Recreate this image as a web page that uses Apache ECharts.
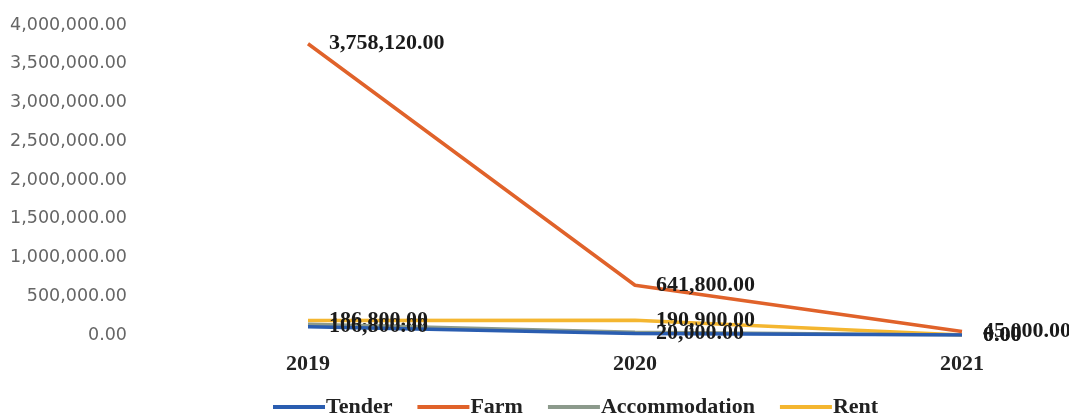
<!DOCTYPE html>
<html>
<head>
<meta charset="utf-8">
<script src="https://cdn.jsdelivr.net/npm/echarts@6/dist/echarts.min.js"></script>
<style>
html,body{margin:0;padding:0;background:#fff;}
#c{width:1069px;height:417px;}
</style>
</head>
<body>
<div id="c"></div>
<script>
var years = ['2019', '2020', '2021'];
var tender = [106800, 20000, 0];
var farm = [3758120, 641800, 45000];
var accommodation = [140000, 35000, 0];
var rent = [186800, 190900, 0];
var yTicks = [0, 500000, 1000000, 1500000, 2000000, 2500000, 3000000, 3500000, 4000000];

function fmt(v) {
  return Number(v).toLocaleString('en-US', {minimumFractionDigits: 2, maximumFractionDigits: 2});
}
var serif = '"Liberation Serif", "Times New Roman", serif';
var lbl = {
  show: true, position: 'right', distance: 21,
  fontFamily: serif, fontWeight: 'bold', fontSize: 22, color: '#1a1a1a',
  formatter: function (p) { return fmt(p.value); }
};
function mk(name, data, color, z, labelled) {
  return {
    name: name, type: 'line', data: data, symbol: 'circle', symbolSize: 0,
    showSymbol: true, z: z,
    lineStyle: {color: color, width: 3.5},
    itemStyle: {color: color},
    label: labelled ? lbl : {show: false},
    emphasis: {disabled: true}
  };
}
var chart = echarts.init(document.getElementById('c'));
chart.setOption({
  animation: false,
  backgroundColor: '#fff',
  grid: {left: 308, top: 25, right: 107, height: 310, containLabel: false},
  xAxis: {
    type: 'category', data: years, boundaryGap: false,
    axisLine: {show: false}, axisTick: {show: false},
    axisLabel: {fontFamily: serif, fontWeight: 'bold', fontSize: 22, color: '#222', margin: 18}
  },
  yAxis: {
    type: 'value', min: yTicks[0], max: yTicks[yTicks.length - 1], interval: yTicks[1] - yTicks[0],
    axisLine: {show: false}, axisTick: {show: false}, splitLine: {show: false},
    axisLabel: {fontFamily: '"DejaVu Sans", sans-serif', fontSize: 17.5, color: '#666', margin: 181,
      formatter: function (v) { return fmt(v); }}
  },
  legend: {
    bottom: -6, left: 268, itemGap: 25, itemWidth: 52, itemHeight: 4,
    icon: 'rect',
    textStyle: {fontFamily: serif, fontWeight: 'bold', fontSize: 22, color: '#222', padding: [0, 0, 0, -4]},
    data: ['Tender', 'Farm', 'Accommodation', 'Rent']
  },
  series: [
    mk('Tender', tender, '#2a5db0', 3, true),
    mk('Farm', farm, '#e0622a', 4, true),
    mk('Accommodation', accommodation, '#8c9a8c', 2, false),
    mk('Rent', rent, '#f4b630', 1, true)
  ]
});
</script>
</body>
</html>
